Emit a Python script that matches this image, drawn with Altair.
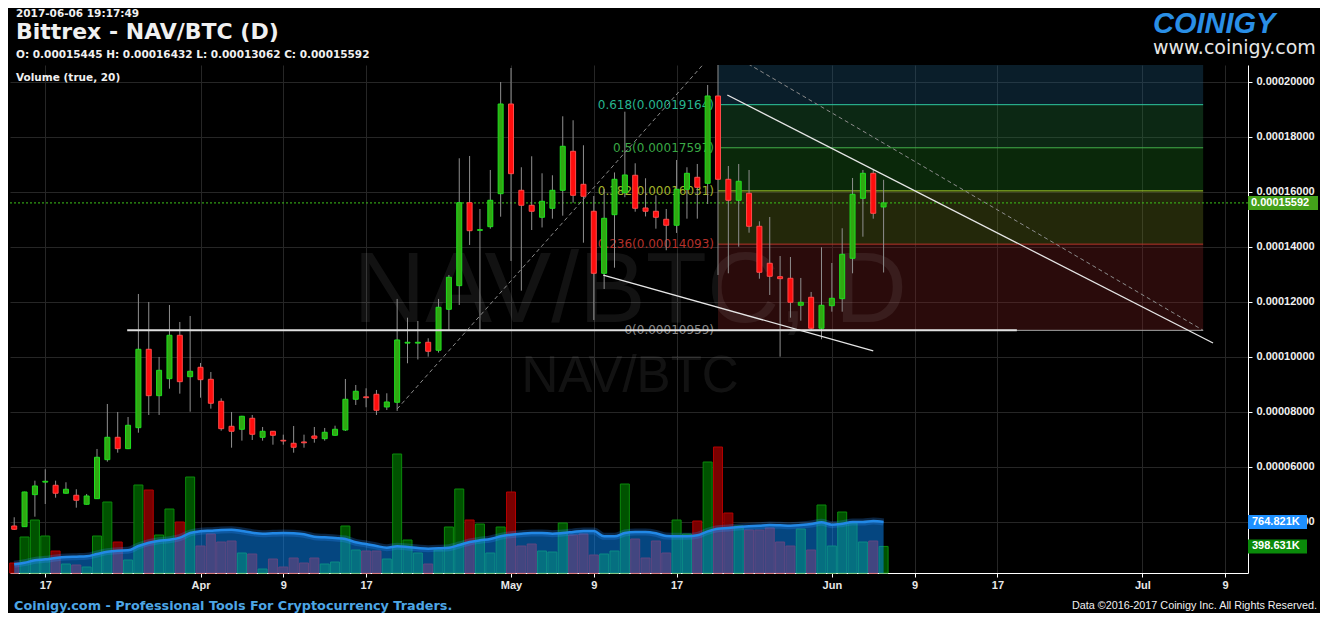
import altair as alt
import pandas as pd

# ---------------- data (prices in 1e-8 BTC, volume in thousands) ----------------
start_date = "2017-03-14"
end_date = "2017-06-06"

open_sat = [3845, 3820, 4984, 5440, 5325, 5035, 4962, 4634, 4838, 6256, 7070, 6656, 7419, 10270, 8583, 9201, 10779, 9273,
            9615, 9179, 8379, 7470, 7361, 7761, 7070, 7288, 6960, 6852, 6900, 7117, 7019, 7143, 7335, 8452, 8540, 8634, 8172, 8343,
            10495, 10495, 10525, 10234, 11724, 12583, 15600, 14595, 14728, 15928,
            19189, 16051, 15506, 15070, 15397, 16051, 17469, 16269, 15288, 13033, 15164, 15964, 16597, 15408, 15288, 14997,
            14779, 16088, 16524, 16306, 19480, 16451, 15688, 15942, 14742, 13397, 12910, 12852, 11870, 12161, 11034,
            11855, 12110, 13579, 15760, 16669, 15445]
high_sat = [4162, 5090, 5492, 5907, 5492, 5434, 5180, 5009, 6645, 8281, 7990, 7808, 12281, 11990, 9990, 11881, 11263, 11481,
            9772, 9444, 8488, 7990, 7850, 7881, 7445, 7300, 7165, 7481, 7165, 7445, 7409, 7492, 9190, 8972, 8852, 8790, 8670, 12100,
            11419, 11299, 10670, 12100, 12972, 17215, 17299, 15371, 16790, 19989,
            20498, 16888, 17288, 16669, 16597, 18742, 18597, 17688, 15844, 16099, 16700, 18909, 17033, 16488, 15869, 15371,
            17153, 16888, 17008, 19880, 20700, 16935, 17008, 16790, 14924, 15080, 13662, 13626, 12863, 12354, 13979,
            13408, 14670, 16499, 16790, 16790, 16432]
low_sat = [3700, 3810, 4183, 4645, 4874, 5020, 4510, 4620, 4830, 6183, 6510, 6640, 7237, 7881, 7881, 8838, 8656, 8001,
           8510, 8111, 7310, 6692, 6947, 6972, 6947, 6801, 6801, 6510, 6692, 6874, 6947, 7130, 7300, 8245, 8161, 7881, 8063, 8027,
           9761, 9900, 10001, 10150, 10972, 11881, 14062, 10972, 14655, 15091,
           13481, 12401, 14607, 14700, 15019, 15128, 15600, 14146, 11335, 12462, 13237, 15800, 15273, 15100, 14655, 13870,
           14500, 15019, 15019, 15553, 12972, 13033, 14001, 14510, 12837, 12244, 10001, 11419, 11310, 10959, 10634,
           11637, 11637, 13033, 14364, 15019, 13062]
close_sat = [3725, 5081, 5300, 5470, 5035, 5180, 4780, 4936, 6343, 7070, 6656, 7506, 10270, 8583, 9506, 10779, 9092, 9470,
             9165, 8307, 7383, 7288, 7834, 7179, 7288, 7143, 6935, 6707, 6870, 7034, 7252, 7361, 8452, 8743, 8510, 8052, 8354, 10609,
             10525, 10525, 10197, 11797, 12888, 15600, 14582, 14620, 15688, 19189,
             16655, 15506, 15288, 15651, 16051, 17651, 15869, 15833, 13033, 15033, 16451, 16608, 15397, 15288, 15070, 14779,
             16088, 16669, 16161, 19480, 16451, 15688, 16379, 14742, 13070, 12924, 12837, 11979, 11979, 11034, 11870,
             12124, 13724, 15906, 16669, 15215, 15592]
volume_k = [150, 540, 795, 555, 330, 135, 120, 90, 555, 1065, 465, 195, 1320, 1245, 570, 960, 765, 1440,
            405, 585, 465, 480, 300, 285, 60, 210, 90, 225, 150, 225, 135, 165, 705, 345, 330, 330, 210, 1785,
            495, 300, 135, 345, 690, 1260, 795, 735, 300, 690,
            1215, 405, 435, 330, 315, 750, 570, 585, 270, 285, 330, 1335, 510, 225, 480, 300,
            795, 585, 780, 1665, 1890, 900, 705, 645, 645, 675, 465, 405, 660, 345, 1020,
            405, 915, 750, 465, 480, 398.631]
vol_ma20_k = [130, 155, 190, 205, 225, 240, 245, 250, 285, 320, 335, 340, 405, 455, 485, 500, 530, 600,
              625, 635, 645, 650, 630, 605, 590, 595, 600, 595, 580, 545, 535, 525, 510, 460, 435, 405, 380, 400,
              390, 375, 365, 370, 380, 420, 465, 490, 510, 550,
              575, 590, 600, 600, 590, 600, 615, 630, 630, 550, 550, 600, 615, 615, 595, 555,
              550, 550, 565, 625, 665, 675, 690, 700, 710, 720, 715, 710, 720, 735, 760,
              725, 740, 765, 765, 780, 764.821]

tick_dates = [(3, 17), (4, 1), (4, 9), (4, 17), (5, 1), (5, 9), (5, 17), (6, 1), (6, 9), (6, 17), (7, 1), (7, 9)]
price_ticks = [0.00004, 0.00006, 0.00008, 0.00010, 0.00012, 0.00014, 0.00016, 0.00018, 0.00020]

fib_levels = [0, 0.236, 0.382, 0.5, 0.618]
fib_prices = [0.00010959, 0.00014093, 0.00016031, 0.00017597, 0.00019164]
fib_top = 0.00022
fib_start = "2017-05-21T00:00:00Z"
fib_end = "2017-07-06T21:00:00Z"
fib_line_colors = ["#a8a8a8", "#b8332b", "#9dc52a", "#43b14a", "#2ec9a0"]
fib_label_colors = ["#8a8a8a", "#b5302a", "#a3b42a", "#3aa845", "#26b58f"]
fib_zone_colors = ["#802020", "#6a7a1e", "#1e781e", "#24783c", "#1e5a7e"]

# drawn trend lines: (segment, date, price)
dashed_seg = ["up", "up", "diag", "diag"]
dashed_date = ["2017-04-20T00:00:00Z", "2017-05-20T00:00:00Z", fib_start, fib_end]
dashed_price = [0.0000810, 0.0002081, 0.0002129, 0.00010959]
solid_seg = ["res", "res", "sup", "sup"]
solid_date = ["2017-05-21T21:36:00Z", "2017-07-07T19:55:00Z", "2017-05-09T22:00:00Z", "2017-06-05T00:00:00Z"]
solid_price = [0.00019516, 0.00010499, 0.0001297, 0.0001021]
flat_date = ["2017-03-24T22:00:00Z", "2017-06-18T21:00:00Z"]
flat_price = [0.00010959, 0.00010959]

# ---------------- tables ----------------
SAT = 1e-8
dates = pd.date_range(start_date, end_date, freq="D").strftime("%Y-%m-%d").tolist()
candles = pd.DataFrame({
    "date": dates,
    "open": [v * SAT for v in open_sat],
    "high": [v * SAT for v in high_sat],
    "low": [v * SAT for v in low_sat],
    "close": [v * SAT for v in close_sat],
    "vol": volume_k,
    "ma": vol_ma20_k,
})
last = candles.iloc[-1]

fib_zone = pd.DataFrame({
    "x": fib_start, "x2": fib_end,
    "lo": fib_prices,
    "hi": fib_prices[1:] + [fib_top],
    "c": fib_zone_colors,
})
fib_lines = pd.DataFrame({
    "x": fib_start, "x2": fib_end, "p": fib_prices, "c": fib_line_colors,
    "lc": fib_label_colors,
    "label": [f"{lv:g}({p:.8f})" for lv, p in zip(fib_levels, fib_prices)],
})
dashed = pd.DataFrame({"seg": dashed_seg, "date": dashed_date, "p": dashed_price})
solid = pd.DataFrame({"seg": solid_seg, "date": solid_date, "p": solid_price})
flat = pd.DataFrame({"date": flat_date, "p": flat_price})
price_box = pd.DataFrame({"p": [last["close"]], "label": [f"{last['close']:.8f}"]})
vol_box = pd.DataFrame({
    "v": [last["ma"], last["vol"]],
    "label": [f"{last['ma']:.3f}K", f"{last['vol']:.3f}K"],
    "c": ["#1e90ff", "#0a8a0a"],
})

# ---------------- scales / axes ----------------
W, H = 1238, 508
xscale = alt.Scale(type="utc", nice=False, padding=0, domain=[
    alt.DateTime(year=2017, month=3, date=13, hours=14, minutes=15, utc=True),
    alt.DateTime(year=2017, month=7, date=11, hours=5, utc=True)])
xaxis = alt.Axis(
    values=[alt.DateTime(year=2017, month=m, date=d, utc=True) for m, d in tick_dates],
    labelExpr="utcdate(datum.value) == 1 ? utcFormat(datum.value, '%b') : utcFormat(datum.value, '%-d')",
    title=None, grid=True, gridColor="#262626", gridWidth=1,
    domainColor="#ffffff", domainWidth=1, tickColor="#ffffff", tickSize=4,
    labelColor="#e8e8e8", labelFont="Liberation Sans", labelFontSize=11, labelFontWeight="bold",
    labelPadding=2, labelFlush=False, labelOverlap=False)
pscale = alt.Scale(domain=[0.00002135, 0.00020607], nice=False, zero=False, padding=0)
paxis = alt.Axis(
    orient="right", values=price_ticks, format=".8f", title=None, grid=True,
    gridColor="#262626", gridWidth=1, domainColor="#ffffff", domainWidth=1,
    tickColor="#ffffff", tickSize=4, labelColor="#f0f0f0", labelFont="Liberation Sans",
    labelFontSize=11, labelFontWeight="bold", labelPadding=4, labelFlush=False, labelOverlap=False)
vscale = alt.Scale(domain=[0, 7620], nice=False, zero=True, padding=0)


def X(field="date"):
    return alt.X(f"{field}:T", scale=xscale, axis=xaxis, title=None)


def YP(field):
    return alt.Y(f"{field}:Q", scale=pscale, axis=paxis, title=None)


def YV(field):
    return alt.Y(f"{field}:Q", scale=vscale, axis=None, title=None)


def text(txt, x, y, size, color="#f0f0f0", weight="bold", font="DejaVu Sans",
         align="left", baseline="middle", opacity=1.0, italic=False):
    kw = dict(align=align, baseline=baseline, font=font, fontSize=size,
              fontWeight=weight, color=color, opacity=opacity)
    if italic:
        kw["fontStyle"] = "italic"
    return alt.Chart(pd.DataFrame({"t": [txt]})).mark_text(**kw).encode(
        text="t:N", x=alt.value(x), y=alt.value(y))


up = "datum.close >= datum.open"

# ---------------- volume panel ----------------
vol_bars = alt.Chart(candles).mark_bar(size=9, strokeWidth=1).encode(
    x=X(), y=YV("vol"),
    fill=alt.condition(up, alt.value("#005200"), alt.value("#7a0000")),
    stroke=alt.condition(up, alt.value("#0a8a0a"), alt.value("#b30000")))
ma_area = alt.Chart(candles).mark_area(interpolate="monotone", color="#0a8cff", opacity=0.5).encode(
    x=X(), y=YV("ma"))
ma_glow = alt.Chart(candles).mark_line(interpolate="monotone", color="#2a90ff", strokeWidth=7, opacity=0.25).encode(
    x=X(), y=YV("ma"))
ma_line = alt.Chart(candles).mark_line(interpolate="monotone", color="#2288e6", strokeWidth=2.5).encode(
    x=X(), y=YV("ma"))
vbox = alt.Chart(vol_box).mark_rect(yOffset=-7, y2Offset=7).encode(
    x=alt.value(W), x2=alt.value(W + 59), y=YV("v"), y2=alt.Y2("v"),
    fill=alt.Color("c:N", scale=None))
vbox_t = alt.Chart(vol_box).mark_text(align="left", baseline="middle", dx=4, font="Liberation Sans",
                                      fontSize=11, fontWeight="bold", color="#ffffff").encode(
    x=alt.value(W), y=YV("v"), text="label:N")
vol_group = alt.layer(vol_bars, ma_area, ma_glow, ma_line, vbox, vbox_t)

# ---------------- price panel ----------------
zones = alt.Chart(fib_zone).mark_rect(opacity=0.33, clip=True).encode(
    x=X("x"), x2=alt.X2("x2"), y=YP("lo"), y2=alt.Y2("hi"), fill=alt.Color("c:N", scale=None))
wm1 = text("NAV/BTC, D", 620, 257, 100, color="#ffffff", weight="normal", font="Liberation Sans",
           align="center", baseline="alphabetic", opacity=0.07)
wm2 = text("NAV/BTC", 620, 327, 51, color="#ffffff", weight="normal", font="Liberation Sans",
           align="center", baseline="alphabetic", opacity=0.07)
fib_rule = alt.Chart(fib_lines).mark_rule(strokeWidth=1).encode(
    x=X("x"), x2=alt.X2("x2"), y=YP("p"), color=alt.Color("c:N", scale=None))
fib_text = alt.Chart(fib_lines).mark_text(align="right", baseline="middle", dx=-4, font="DejaVu Sans",
                                          fontSize=12).encode(
    x=X("x"), y=YP("p"), text="label:N", color=alt.Color("lc:N", scale=None))
cur_line = alt.Chart(price_box).mark_rule(color="#3ec41a", strokeDash=[2, 2], strokeWidth=1).encode(y=YP("p"))
wicks = alt.Chart(candles).mark_rule(color="#8f8f8f", strokeWidth=1, clip=True).encode(
    x=X(), y=YP("low"), y2=alt.Y2("high"))
bodies = alt.Chart(candles).mark_bar(size=5, strokeWidth=1, clip=True).encode(
    x=X(), y=YP("open"), y2=alt.Y2("close"),
    fill=alt.condition(up, alt.value("#30a812"), alt.value("#ff0d0d")),
    stroke=alt.condition(up, alt.value("#1ee01e"), alt.value("#ff4a4a")))
flat_line = alt.Chart(flat).mark_line(color="#e0e0e0", strokeWidth=2, clip=True).encode(x=X(), y=YP("p"))
dash_lines = alt.Chart(dashed).mark_line(color="#8c8c8c", strokeWidth=1, strokeDash=[4, 3], clip=True).encode(
    x=X(), y=YP("p"), detail="seg:N")
solid_lines = alt.Chart(solid).mark_line(color="#e6e6e6", strokeWidth=1.3, clip=True).encode(
    x=X(), y=YP("p"), detail="seg:N")
pbox = alt.Chart(price_box).mark_rect(yOffset=-7, y2Offset=7, color="#43a01a").encode(
    x=alt.value(W), x2=alt.value(W + 70), y=YP("p"), y2=alt.Y2("p"))
pbox_t = alt.Chart(price_box).mark_text(align="left", baseline="middle", dx=3, font="Liberation Sans",
                                        fontSize=11, fontWeight="bold", color="#ffffff").encode(
    x=alt.value(W), y=YP("p"), text="label:N")
price_group = alt.layer(zones, wm1, wm2, fib_rule, fib_text, cur_line, wicks, bodies,
                        flat_line, dash_lines, solid_lines, pbox, pbox_t)

# ---------------- header / footer text ----------------
t_time = text("2017-06-06 19:17:49", 6, -51, 10.5)
t_title = text("Bittrex - NAV/BTC (D)", 6, -33, 22)
t_ohlc = text("O: 0.00015445 H: 0.00016432 L: 0.00013062 C: 0.00015592", 6, -10, 10.5)
t_vol = text("Volume (true, 20)", 6, 13, 10.5)
t_logo = text("COINIGY", 1143, -41, 29, color="#2a8fe6", font="Liberation Sans", italic=True)
t_url = text("www.coinigy.com", 1143, -17, 19, color="#e6e6e6", weight="normal", font="DejaVu Sans")
t_foot = text("Coinigy.com - Professional Tools For Cryptocurrency Traders.", 4, 541, 12.8, color="#4da6e6")
t_copy = text("Data \u00a92016-2017 Coinigy Inc. All Rights Reserved.", 1307, 541, 10.8, color="#f0f0f0",
              weight="normal", font="Liberation Sans", align="right")

chart = alt.layer(
    vol_group, price_group, t_time, t_title, t_ohlc, t_vol, t_logo, t_url, t_foot, t_copy
).resolve_scale(y="independent").properties(
    width=W, height=H,
    padding={"left": 2, "top": 57, "right": 72, "bottom": 40},
    autosize=alt.AutoSizeParams(type="none"),
    background="#000000",
).configure_view(stroke=None)

chart.save("out.html", embed_options={"renderer": "svg", "actions": False})
